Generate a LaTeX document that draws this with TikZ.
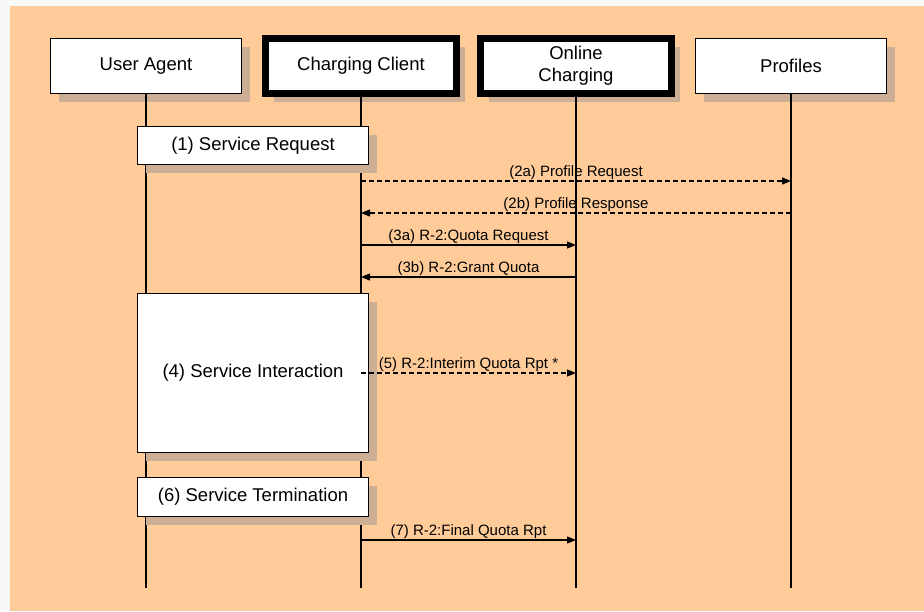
\documentclass[tikz,border=0pt]{standalone}
\usepackage{fontspec}
\setmainfont{Liberation Sans}
\usetikzlibrary{arrows.meta,shadows}
\definecolor{peach}{RGB}{255,204,153}
\definecolor{shadowtan}{RGB}{204,174,148}
\definecolor{paper}{RGB}{248,248,248}

\tikzset{
  actor/.style={rectangle, draw=black, line width=1.4pt, fill=white, minimum width=191pt, minimum height=55pt, inner sep=0pt, align=center, font=\fontsize{18.5}{22}\selectfont, drop shadow={shadow xshift=8pt, shadow yshift=-8pt, fill=shadowtan, opacity=1}},
  system/.style={actor, line width=7pt},
  activity/.style={actor, minimum width=231pt, minimum height=38pt},
  life/.style={line width=1.3pt},
  msg/.style={line width=1.3pt, -{Triangle[length=9pt,width=7pt]}},
  dashmsg/.style={msg, dash pattern=on 5pt off 3pt},
  lbl/.style={above, inner sep=1pt, font=\fontsize{15}{17}\selectfont}
}

\begin{document}
\begin{tikzpicture}[x=1pt, y=-1pt]

\useasboundingbox (0,0) rectangle (924,611);
\fill[paper] (0,0) rectangle (924,611);
\fill[peach] (10,6) rectangle (924,611);

% participants
\node(ua) [actor] at (146,66) {User Agent};
\node(cc) [system] at (361,66) {Charging Client};
\node(oc) [system] at (576,66) {Online\\Charging};
\node(pr) [actor] at (791,66) {Profiles};

% lifelines
\foreach \p in {ua,cc,oc,pr}
  \draw[life] (\p.south) -- (\p |- 0,588);

% activities
\node(sreq) [activity] at (253,145.5) {(1) Service Request};
\node(sint) [activity, minimum height=159pt] at (253,373) {(4) Service Interaction};
\node(sterm) [activity, minimum height=39pt] at (253,497) {(6) Service Termination};

% messages
\draw[dashmsg] (cc |- 0,181) -- node[lbl] {(2a) Profile Request} (pr |- 0,181);
\draw[dashmsg] (pr |- 0,213) -- node[lbl] {(2b) Profile Response} (cc |- 0,213);
\draw[msg] (cc |- 0,245) -- node[lbl] {(3a) R-2:Quota Request} (oc |- 0,245);
\draw[msg] (oc |- 0,277) -- node[lbl] {(3b) R-2:Grant Quota} (cc |- 0,277);
\draw[dashmsg] (cc |- 0,373) -- node[lbl] {(5) R-2:Interim Quota Rpt *} (oc |- 0,373);
\draw[msg] (cc |- 0,540) -- node[lbl] {(7) R-2:Final Quota Rpt} (oc |- 0,540);

\end{tikzpicture}
\end{document}
